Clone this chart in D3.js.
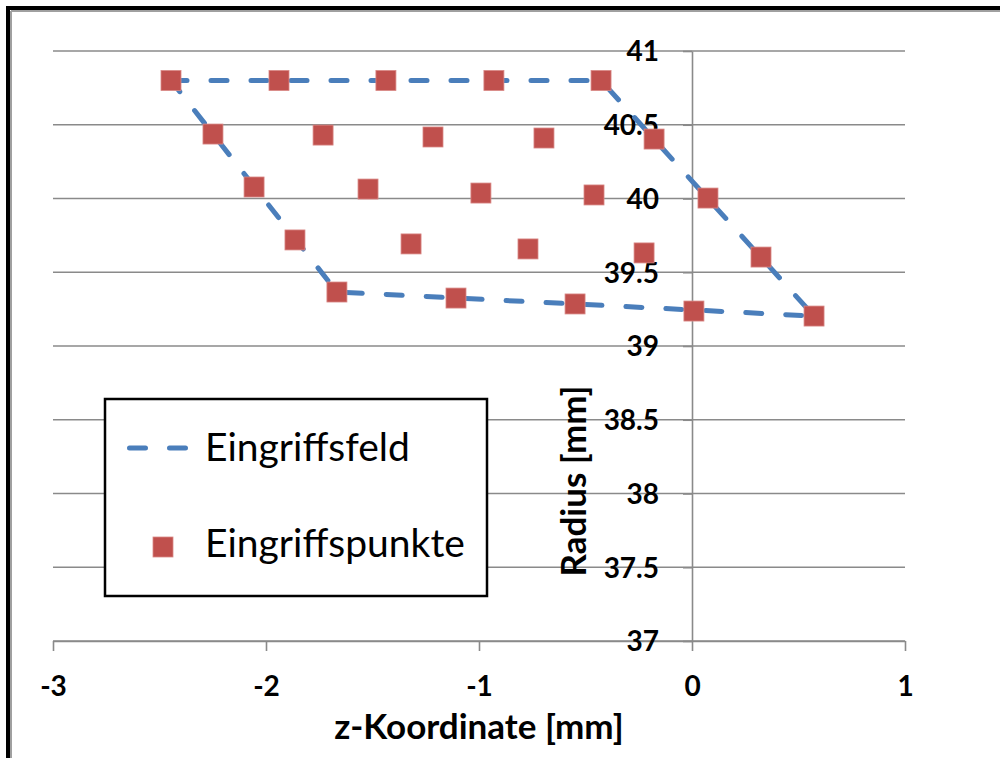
<!DOCTYPE html>
<html><head><meta charset="utf-8">
<style>
body { margin: 0; background: #fff; }
text { font-family: Lato, "Open Sans", sans-serif; fill: #000; }
</style></head>
<body>
<svg width="1000" height="758"></svg>
<script src="https://d3js.org/d3.v7.min.js"></script>
<script>

// Eingriffsfeld (closed outline)
var fieldZ = [-2.446, -0.427, 0.573, -1.667, -2.446];
var fieldR = [40.8, 40.8, 39.203, 39.366, 40.8];

// Eingriffspunkte
var pointZ = [-2.446, -1.939, -1.437, -0.930, -0.427,
              -2.249, -1.732, -1.216, -0.695, -0.178,
              -2.056, -1.521, -0.991, -0.460, 0.075,
              -1.864, -1.319, -0.770, -0.225, 0.324,
              -1.667, -1.108, -0.549, 0.009, 0.573];
var pointR = [40.8, 40.8, 40.8, 40.8, 40.8,
              40.437, 40.43, 40.417, 40.41, 40.403,
              40.078, 40.064, 40.037, 40.024, 40.003,
              39.719, 39.692, 39.658, 39.631, 39.603,
              39.366, 39.325, 39.285, 39.237, 39.203];

var xTicks = [-3, -2, -1, 0, 1];
var yTicks = [37, 37.5, 38, 38.5, 39, 39.5, 40, 40.5, 41];

var svg = d3.select("svg");

var x = d3.scaleLinear().domain([-3, 1]).range([53, 905]),
    y = d3.scaleLinear().domain([37, 41]).range([641, 51]);

var gridColor = "#8a8a8a";

// horizontal gridlines
svg.append("g").selectAll("line")
    .data(yTicks)
  .enter().append("line")
    .attr("x1", x(-3)).attr("x2", x(1))
    .attr("y1", function(d) { return y(d); })
    .attr("y2", function(d) { return y(d); })
    .attr("stroke", gridColor)
    .attr("stroke-width", 1.6);

// x axis
var xAxis = svg.append("g")
    .attr("transform", "translate(0," + y(37) + ")")
    .call(d3.axisBottom(x).tickValues(xTicks).tickSize(10).tickSizeOuter(0));
xAxis.select(".domain").attr("stroke", gridColor).attr("stroke-width", 1.6);
xAxis.selectAll(".tick line").attr("stroke", gridColor).attr("stroke-width", 1.6);
xAxis.selectAll(".tick text")
    .attr("y", 45).attr("dy", "0.35em")
    .style("font-size", "28px").style("font-weight", "bold")
    .text(function(d) { return d < 0 ? "-" + Math.abs(d) : d; });

// y axis at z = 0
var yAxis = svg.append("g")
    .attr("transform", "translate(" + x(0) + ",0)")
    .call(d3.axisLeft(y).tickValues(yTicks).tickSize(9).tickSizeOuter(0).tickFormat(function(d) { return String(d); }));
yAxis.select(".domain").attr("stroke", gridColor).attr("stroke-width", 1.6);
yAxis.selectAll(".tick line").attr("stroke", gridColor).attr("stroke-width", 1.6);
yAxis.selectAll(".tick text")
    .attr("x", -33).attr("dy", "0.35em")
    .style("font-size", "28px").style("font-weight", "bold");

// Eingriffsfeld outline
var field = fieldZ.map(function(z, i) { return [z, fieldR[i]]; });
svg.append("path")
    .datum(field)
    .attr("fill", "none")
    .attr("stroke", "#4a7ebb")
    .attr("stroke-width", 5)
    .attr("stroke-linecap", "round")
    .attr("stroke-linejoin", "round")
    .attr("stroke-dasharray", "16,24")
    .attr("d", d3.line().x(function(d) { return x(d[0]); }).y(function(d) { return y(d[1]); }));

// Eingriffspunkte
svg.append("g").selectAll("rect")
    .data(pointZ)
  .enter().append("rect")
    .attr("x", function(d) { return x(d) - 10; })
    .attr("y", function(d, i) { return y(pointR[i]) - 10; })
    .attr("width", 20).attr("height", 20)
    .attr("fill", "#c0504d")
    .attr("stroke", "#d98886")
    .attr("stroke-width", 0.8);

// axis titles
svg.append("text")
    .attr("transform", "translate(574,481) rotate(-90)")
    .attr("text-anchor", "middle").attr("dy", "0.35em")
    .style("font-size", "35px").style("font-weight", "bold")
    .text("Radius [mm]");

svg.append("text")
    .attr("x", 479).attr("y", 727)
    .attr("text-anchor", "middle").attr("dy", "0.35em")
    .style("font-size", "35px").style("font-weight", "bold")
    .text("z-Koordinate [mm]");

// legend
var legend = svg.append("g");
legend.append("rect")
    .attr("x", 105).attr("y", 399).attr("width", 382).attr("height", 197)
    .attr("fill", "#fff").attr("stroke", "#000").attr("stroke-width", 2.5);
legend.append("line")
    .attr("x1", 129.5).attr("x2", 185.5).attr("y1", 448).attr("y2", 448)
    .attr("stroke", "#4a7ebb").attr("stroke-width", 5)
    .attr("stroke-linecap", "round").attr("stroke-dasharray", "16,24");
legend.append("rect")
    .attr("x", 153).attr("y", 537).attr("width", 20).attr("height", 20)
    .attr("fill", "#c0504d").attr("stroke", "#d98886").attr("stroke-width", 0.8);
legend.append("text")
    .attr("x", 205).attr("y", 461)
    .style("font-size", "39px")
    .text("Eingriffsfeld");
legend.append("text")
    .attr("x", 205).attr("y", 557)
    .style("font-size", "39px")
    .text("Eingriffspunkte");

// outer frame
svg.append("line").attr("x1", 8).attr("x2", 1000).attr("y1", 8).attr("y2", 8)
    .attr("stroke", "#000").attr("stroke-width", 4);
svg.append("line").attr("x1", 8).attr("x2", 8).attr("y1", 6).attr("y2", 758)
    .attr("stroke", "#000").attr("stroke-width", 4);
svg.append("line").attr("x1", 11).attr("x2", 1000).attr("y1", 11).attr("y2", 11)
    .attr("stroke", "#a0a0a0").attr("stroke-width", 2);
svg.append("line").attr("x1", 11).attr("x2", 11).attr("y1", 11).attr("y2", 758)
    .attr("stroke", "#a0a0a0").attr("stroke-width", 2);

</script>
</body></html>
